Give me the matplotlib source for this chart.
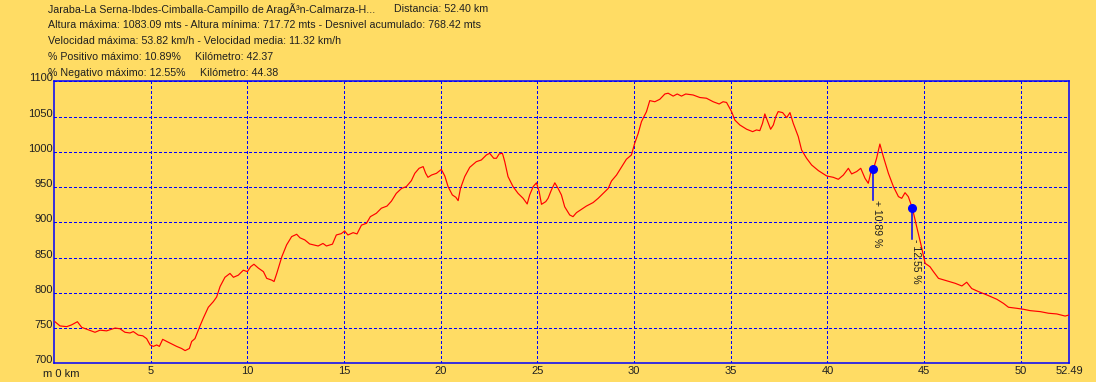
import matplotlib
matplotlib.use("Agg")
import matplotlib.pyplot as plt
from matplotlib.transforms import ScaledTranslation

# ---------------- data ----------------
km = [0.05, 0.31, 0.66, 0.91, 1.21, 1.43, 1.72, 2.12, 2.38, 2.72, 3.16, 3.41, 3.67, 3.93, 4.10,
      4.36, 4.59, 4.79, 4.97, 5.14, 5.31, 5.45, 5.62, 5.83, 6.09, 6.34, 6.60, 6.78, 7.00, 7.12,
      7.29, 7.55, 7.72, 7.98, 8.24, 8.41, 8.59, 8.84, 9.10, 9.28, 9.53, 9.79, 10.00, 10.17, 10.34,
      10.57, 10.83, 11.00, 11.26, 11.38, 11.52, 11.78, 12.03, 12.29, 12.55, 12.72, 12.97, 13.22,
      13.66, 13.91, 14.09, 14.40, 14.60, 14.86, 15.03, 15.20, 15.47, 15.67, 15.90, 16.16, 16.36,
      16.67, 16.93, 17.22, 17.45, 17.70, 17.97, 18.22, 18.48, 18.66, 18.88, 19.09, 19.22, 19.34,
      19.52, 19.78, 20.03, 20.21, 20.38, 20.60, 20.78, 20.90, 21.02, 21.24, 21.50, 21.84, 22.10,
      22.36, 22.53, 22.74, 22.88, 23.02, 23.19, 23.31, 23.48, 23.74, 24.00, 24.26, 24.47, 24.60,
      24.78, 24.95, 25.09, 25.21, 25.43, 25.55, 25.72, 25.90, 26.07, 26.24, 26.41, 26.67, 26.84,
      27.02, 27.28, 27.53, 27.88, 28.14, 28.40, 28.66, 28.83, 29.09, 29.34, 29.60, 29.86, 30.03,
      30.21, 30.38, 30.64, 30.81, 31.07, 31.33, 31.59, 31.76, 32.02, 32.23, 32.45, 32.67, 33.05,
      33.40, 33.74, 34.09, 34.40, 34.60, 34.78, 35.04, 35.21, 35.47, 35.82, 36.13, 36.33, 36.50,
      36.64, 36.76, 36.88, 37.06, 37.20, 37.33, 37.45, 37.68, 37.89, 38.06, 38.23, 38.49, 38.66,
      38.92, 39.18, 39.53, 39.96, 40.30, 40.56, 40.82, 41.08, 41.25, 41.51, 41.72, 41.94, 42.11,
      42.23, 42.37, 42.54, 42.71, 42.89, 43.15, 43.41, 43.67, 43.84, 44.01, 44.18, 44.39, 44.61,
      44.82, 45.05, 45.30, 45.48, 45.74, 46.17, 46.60, 46.95, 47.20, 47.46, 47.81, 48.24, 48.76,
      49.10, 49.36, 49.79, 50.14, 50.48, 51.00, 51.43, 51.86, 52.29, 52.49]
elev = [759, 753, 752, 754.5, 759, 751, 748, 744, 747, 746, 750, 749, 744, 743, 745,
        740, 739, 735, 726, 724, 726, 724, 734, 731, 727.5, 724, 721, 718, 721, 731,
        735, 753, 764, 779.5, 787.5, 794, 809, 822, 827.5, 822, 825, 832, 830, 837, 840.5,
        835, 830, 820.5, 818, 816, 827.5, 851, 868, 879.7, 883, 878, 875, 869.3,
        866.4, 870, 866.4, 869, 882, 884, 887.7, 882, 885.3, 883.5, 896, 898.6, 908,
        912.8, 920, 923, 930, 941, 948, 950.6, 959, 969.5, 976.6, 979, 969.5, 963.8,
        967, 969.5, 975, 965.7, 950.6, 938.8, 935.5, 930.7, 948, 964.8, 978, 986, 988.4,
        995.5, 997.9, 990.8, 990.8, 997, 997.9, 986, 964.8, 950.6, 941, 934, 926, 938.8,
        950.6, 956, 943.5, 925.5, 929.3, 934, 945.8, 956, 948, 938.8, 922, 910.4, 908,
        913.7, 918.4, 923, 928, 934, 941, 948, 958.6, 967, 978, 989.4, 995.5, 1012,
        1026, 1042.8, 1057, 1072.6, 1071, 1074.5, 1082, 1083.1, 1079, 1082, 1079, 1082, 1080.6,
        1077, 1076, 1071, 1067.8, 1071, 1070, 1057, 1045, 1038, 1032, 1028.6, 1031, 1030,
        1040.4, 1053.7, 1045, 1032, 1038, 1050, 1057, 1055.6, 1048.5, 1055.6, 1040.4, 1021.5, 1002.6,
        990.8, 981.3, 973.3, 965.7, 963.8, 961, 967, 976.6, 968.6, 972, 976.6, 962.4, 955.3,
        969.5, 975, 990.8, 1011, 993, 969.5, 950.6, 936.4, 934, 942, 936.4, 920, 894,
        870, 841.8, 837, 830, 820.5, 817, 813.5, 809.7, 815, 806, 801.7, 797, 790.8,
        785, 779.5, 778, 776.6, 774.7, 773.3, 771, 770, 767, 768.5]

marker_km = [42.37, 44.38]
marker_elev = [975, 920]
marker_labels = ["+ 10.89 %", "- 12.55 %"]

y_ticks = [700, 750, 800, 850, 900, 950, 1000, 1050, 1100]
x_ticks = [5, 10, 15, 20, 25, 30, 35, 40, 45, 50, 52.49]
x_ticklabels = ["5", "10", "15", "20", "25", "30", "35", "40", "45", "50", "52.49"]

header_lines = [
    "Jaraba-La Serna-Ibdes-Cimballa-Campillo de AragÃ³n-Calmarza-H...",
    "Altura máxima: 1083.09 mts - Altura mínima: 717.72 mts - Desnivel acumulado: 768.42 mts",
    "Velocidad máxima: 53.82 km/h - Velocidad media: 11.32 km/h",
    "% Positivo máximo: 10.89%",
    "% Negativo máximo: 12.55%",
]
header_right = ["Distancia: 52.40 km", None, None, "Kilómetro: 42.37", "Kilómetro: 44.38"]

# ---------------- style ----------------
BG = "#FFDC64"
BLUE = "#0000FF"
TXT = "#202020"
plt.rcParams['font.family'] = ['Liberation Sans', 'DejaVu Sans']

W, H = 1096, 382
fig = plt.figure(figsize=(W / 100, H / 100), dpi=100, facecolor=BG)
ax = fig.add_axes([54 / W, (H - 363.3) / H, (1069 - 54) / W, (363.3 - 81.3) / H])
ax.set_facecolor(BG)

ax.plot(km, elev, color="#FF0000", lw=0.85, zorder=3)

ax.set_xlim(0, 52.49)
ax.set_ylim(700, 1100)

for s in ax.spines.values():
    s.set_color(BLUE)
    s.set_linewidth(1.1)

ax.set_xticks(x_ticks)
ax.set_xticklabels(x_ticklabels)
ax.set_yticks(y_ticks)
ax.set_yticklabels([str(v) for v in y_ticks])
ax.tick_params(length=0, labelsize=8, labelcolor=TXT, pad=2)
ax.tick_params(axis='y', pad=1)
for lab in ax.get_yticklabels():
    lab.set_transform(lab.get_transform() + ScaledTranslation(0, 4 / 100, fig.dpi_scale_trans))

ax.grid(True, color=BLUE, linestyle=(0, (2.9, 2.9)), lw=0.72, antialiased=False)
ax.get_xgridlines()[-1].set_visible(False)

ax.annotate("m 0 km", xy=(0, 0), xycoords="axes fraction", xytext=(-8, -4),
            textcoords="offset points", ha="left", va="top", fontsize=8, color=TXT)

# markers
for xk, ye, lab in zip(marker_km, marker_elev, marker_labels):
    ax.plot([xk, xk], [ye, ye - 44], color=BLUE, lw=1.1, zorder=4)
    ax.plot([xk], [ye], "o", color=BLUE, ms=5.5, zorder=5)
    ax.annotate(lab, xy=(xk, ye - 44), xytext=(3, 0), textcoords="offset points",
                rotation=270, ha="center", va="top", fontsize=7.5, color=TXT)

# header
FS = 7.7
ys = [9, 24.5, 41, 57, 72.5]
for i, line in enumerate(header_lines):
    fig.text(48 / W, 1 - ys[i] / H, line, ha="left", va="center", fontsize=FS, color=TXT)
rx = [394, None, None, 195, 200]
for i, t in enumerate(header_right):
    if t:
        fig.text(rx[i] / W, 1 - ys[i] / H, t, ha="left", va="center", fontsize=FS, color=TXT)

fig.savefig("out.png", dpi=100, facecolor=BG)
